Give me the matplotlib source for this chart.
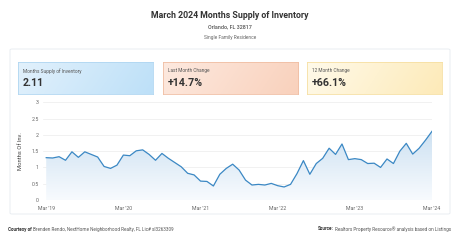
import matplotlib
matplotlib.use("Agg")
import matplotlib.pyplot as plt
from matplotlib.patches import FancyBboxPatch
from matplotlib.colors import LinearSegmentedColormap
from matplotlib.text import Annotation
import numpy as np

plt.rcParams['font.family'] = ['Roboto', 'DejaVu Sans']

# monthly months-supply values, Mar 2019 .. Mar 2024
months_supply = [1.30, 1.29, 1.33, 1.22, 1.48, 1.31, 1.48, 1.40, 1.32, 1.03, 0.97, 1.07,
                 1.38, 1.36, 1.51, 1.54, 1.40, 1.22, 1.43, 1.28, 1.15, 1.02, 0.82, 0.77,
                 0.58, 0.57, 0.43, 0.79, 0.97, 1.10, 0.92, 0.61, 0.46, 0.48, 0.46, 0.51,
                 0.44, 0.40, 0.48, 0.81, 1.21, 0.79, 1.12, 1.28, 1.59, 1.40, 1.72, 1.24,
                 1.27, 1.24, 1.12, 1.13, 1.00, 1.26, 1.12, 1.50, 1.74, 1.41, 1.59, 1.84,
                 2.11]
tick_pos = [0, 12, 24, 36, 48, 60]
tick_labels = ["Mar '19", "Mar '20", "Mar '21", "Mar '22", "Mar '23", "Mar '24"]
y_ticks = [0, 0.5, 1, 1.5, 2, 2.5, 3]
y_tick_labels = ["0", "0.5", "1", "1.5", "2", "2.5", "3"]

kpi_titles = ["Months Supply of Inventory", "Last Month Change", "12 Month Change"]
kpi_values = ["2.11", "+14.7%", "+66.1%"]

W, H = 460, 241
fig = plt.figure(figsize=(W / 100, H / 100), dpi=100)
fig.patch.set_facecolor("white")

def fx(px):
    return px / W

def fy(py):
    return 1 - py / H

# titles
fig.text(0.5, fy(15), "March 2024 Months Supply of Inventory", ha="center", va="center",
         fontsize=6.3, fontweight="bold", color="#333333")
fig.text(0.5, fy(26.5), "Orlando, FL 32817", ha="center", va="center",
         fontsize=3.9, color="#555555", fontweight="medium")
fig.text(0.5, fy(38), "Single Family Residence", ha="center", va="center",
         fontsize=3.5, color="#666666")

# outer card (kept behind the axes)
card = FancyBboxPatch((fx(10), fy(214)), fx(440), (214 - 49) / H,
                      boxstyle="round,pad=0,rounding_size=0.004",
                      transform=fig.transFigure, facecolor="white",
                      edgecolor="#e6ebf0", linewidth=0.6, zorder=-5)
fig.patches.append(card)

# kpi boxes with gradients
box_x = [18, 163, 307]
box_w = 135
box_top, box_bot = 62, 94
grads = [("#e2f1fc", "#bde0f8", "#b0d6f1"),
         ("#fde9df", "#f9d1bc", "#f0bea3"),
         ("#fffaea", "#fdeab8", "#f6dfa2")]
for i in range(3):
    c1, c2, ec = grads[i]
    bax = fig.add_axes([fx(box_x[i]), fy(box_bot), fx(box_w), (box_bot - box_top) / H])
    cmap = LinearSegmentedColormap.from_list("g%d" % i, [c1, c2])
    grad = np.linspace(0, 1, 256).reshape(1, -1)
    grad = grad + np.linspace(0, 0.15, 20).reshape(-1, 1)
    bax.imshow(grad, aspect="auto", cmap=cmap, extent=[0, 1, 0, 1], vmin=0, vmax=1.15)
    bax.set_xlim(0, 1)
    bax.set_ylim(0, 1)
    bax.set_xticks([])
    bax.set_yticks([])
    for s in bax.spines.values():
        s.set_edgecolor(ec)
        s.set_linewidth(0.6)
    bax.text(0.037, 0.72, kpi_titles[i], transform=bax.transAxes, ha="left", va="center",
             fontsize=3.4, color="#555555")
    bax.text(0.037, 0.35, kpi_values[i], transform=bax.transAxes, ha="left", va="center",
             fontsize=7.7, fontweight="bold", color="#333333")

# main chart
ax = fig.add_axes([fx(43), fy(200), fx(432 - 43), (200 - 102.3) / H])
x = np.arange(len(months_supply))
y = np.array(months_supply)

# gradient fill under the line
fill_cmap = LinearSegmentedColormap.from_list("fill", ["#f8fbfe", "#cde1f2"])
gy = np.linspace(0, 1, 256).reshape(-1, 1)
im = ax.imshow(gy, aspect="auto", cmap=fill_cmap, origin="lower",
               extent=[0, 60, 0, max(months_supply)], zorder=1)
poly = ax.fill_between(x, y, 0, facecolor="none", edgecolor="none")
clip = poly.get_paths()[0]
im.set_clip_path(clip, transform=ax.transData)
ax.plot(x, y, color="#3b88c4", linewidth=0.9, zorder=3, solid_joinstyle="round")
ax.set_xlim(-0.5, 60)
ax.set_ylim(0, 3)

ax.set_yticks(y_ticks)
ax.set_yticklabels(y_tick_labels)
ax.set_xticks(tick_pos)
ax.set_xticklabels(tick_labels)
ax.tick_params(axis="both", length=0, labelsize=3.8, colors="#666666")
ax.tick_params(axis="y", pad=3)
ax.tick_params(axis="x", pad=4)
ax.grid(axis="y", color="#ebebeb", linewidth=0.5, zorder=0)
ax.set_axisbelow(True)
for s in ax.spines.values():
    s.set_visible(False)
ax.set_ylabel("Months Of Inv.", fontsize=4.2, color="#444444", labelpad=6)

# footer
t1 = fig.text(fx(8), fy(229), "Courtesy of", ha="left", va="center", fontsize=3.3,
              fontweight="bold", color="#333333")
fig.add_artist(Annotation("Brenden Rendo, NextHome Neighborhood Realty, FL Lic# sl3263309",
                          xy=(1, 0.5), xycoords=t1, xytext=(1.2, 0),
                          textcoords="offset points", ha="left", va="center",
                          fontsize=3.3, color="#555555"))
t2 = fig.text(fx(451), fy(229), "Realtors Property Resource\u00ae analysis based on Listings",
              ha="right", va="center", fontsize=3.3, color="#555555")
fig.add_artist(Annotation("Source:", xy=(0, 0.5), xycoords=t2, xytext=(-1.2, 0),
                          textcoords="offset points", ha="right", va="center",
                          fontsize=3.3, fontweight="bold", color="#333333"))

fig.savefig("out.png", dpi=100, facecolor="white")
